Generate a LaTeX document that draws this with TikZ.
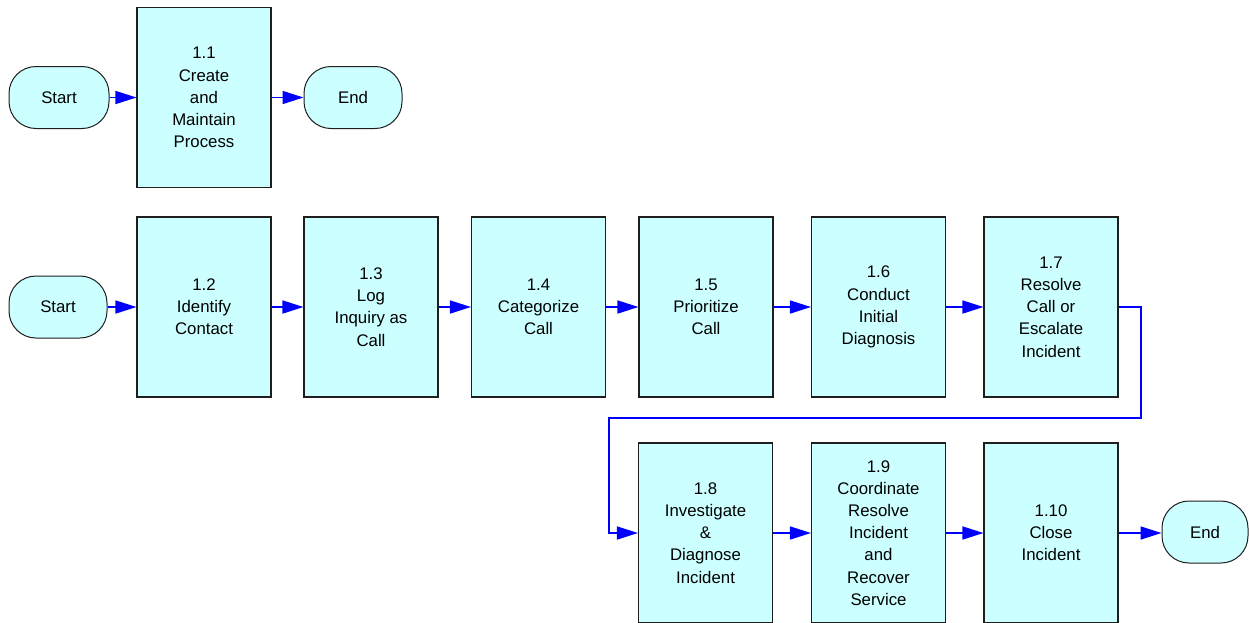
\documentclass[tikz,border=0pt]{standalone}
\usepackage{fontspec}
\setmainfont{Liberation Sans}
\usepackage{tikz}
\usetikzlibrary{arrows.meta}
\definecolor{boxfill}{RGB}{204,255,255}
\definecolor{flowblue}{RGB}{0,0,255}
\definecolor{edge}{RGB}{30,30,30}
\tikzset{
  proc/.style={draw=edge, line width=1.1pt, fill=boxfill, minimum width=134pt, minimum height=180pt,
    inner sep=0pt, align=center, font=\fontsize{16.8}{22.2}\selectfont},
  term/.style={draw=edge, line width=1pt, fill=boxfill, rounded corners=27pt, minimum height=62pt,
    inner sep=0pt, font=\fontsize{16.8}{22.2}\selectfont},
  flow/.style={draw=flowblue, line width=1.6pt, -{Triangle[length=21pt,width=13pt]}}
}
\newcommand{\procbox}[4]{\node[proc] (#1) at (#2,#3) {#4};}
\newcommand{\termbox}[5]{\node[term, minimum width=#4pt] (#1) at (#2,#3) {#5};}
\newcommand{\drawflow}{\draw[flow]}

\begin{document}
\begin{tikzpicture}[x=1pt,y=-1pt]
\useasboundingbox (0,0) rectangle (1249,622);
% top process
\termbox{startA}{59}{97.5}{100}{Start}
\procbox{p11}{204}{97.5}{1.1\\Create\\and\\Maintain\\Process}
\termbox{endA}{353}{97.5}{98}{End}
\drawflow (startA) -- (p11);\drawflow (p11) -- (endA);
% main chain
\termbox{startB}{58}{307}{98}{Start}
\procbox{p12}{204}{307}{1.2\\Identify\\Contact}
\procbox{p13}{371}{307}{1.3\\Log\\Inquiry as\\Call}
\procbox{p14}{538.5}{307}{1.4\\Categorize\\Call}
\procbox{p15}{706}{307}{1.5\\Prioritize\\Call}
\procbox{p16}{878.5}{307}{1.6\\Conduct\\Initial\\Diagnosis}
\procbox{p17}{1051}{307}{1.7\\Resolve\\Call or\\Escalate\\Incident}
\procbox{p18}{705.5}{533}{1.8\\Investigate\\\&\\Diagnose\\Incident}
\procbox{p19}{878.5}{533}{1.9\\Coordinate\\Resolve\\Incident\\and\\Recover\\Service}
\procbox{p110}{1051}{533}{1.10\\Close\\Incident}
\termbox{endB}{1205}{532}{86}{End}
\drawflow (startB) -- (p12);\drawflow (p12) -- (p13);\drawflow (p13) -- (p14);
\drawflow (p14) -- (p15);\drawflow (p15) -- (p16);\drawflow (p16) -- (p17);
\coordinate (turnA) at (1141,418);\coordinate (turnB) at (609,418);
\drawflow (p17.east) -| (turnA) -- (turnB) |- (p18.west);
\drawflow (p18) -- (p19);\drawflow (p19) -- (p110);\drawflow (p110.east) -- (p110.east -| endB.west);
\end{tikzpicture}
\end{document}
